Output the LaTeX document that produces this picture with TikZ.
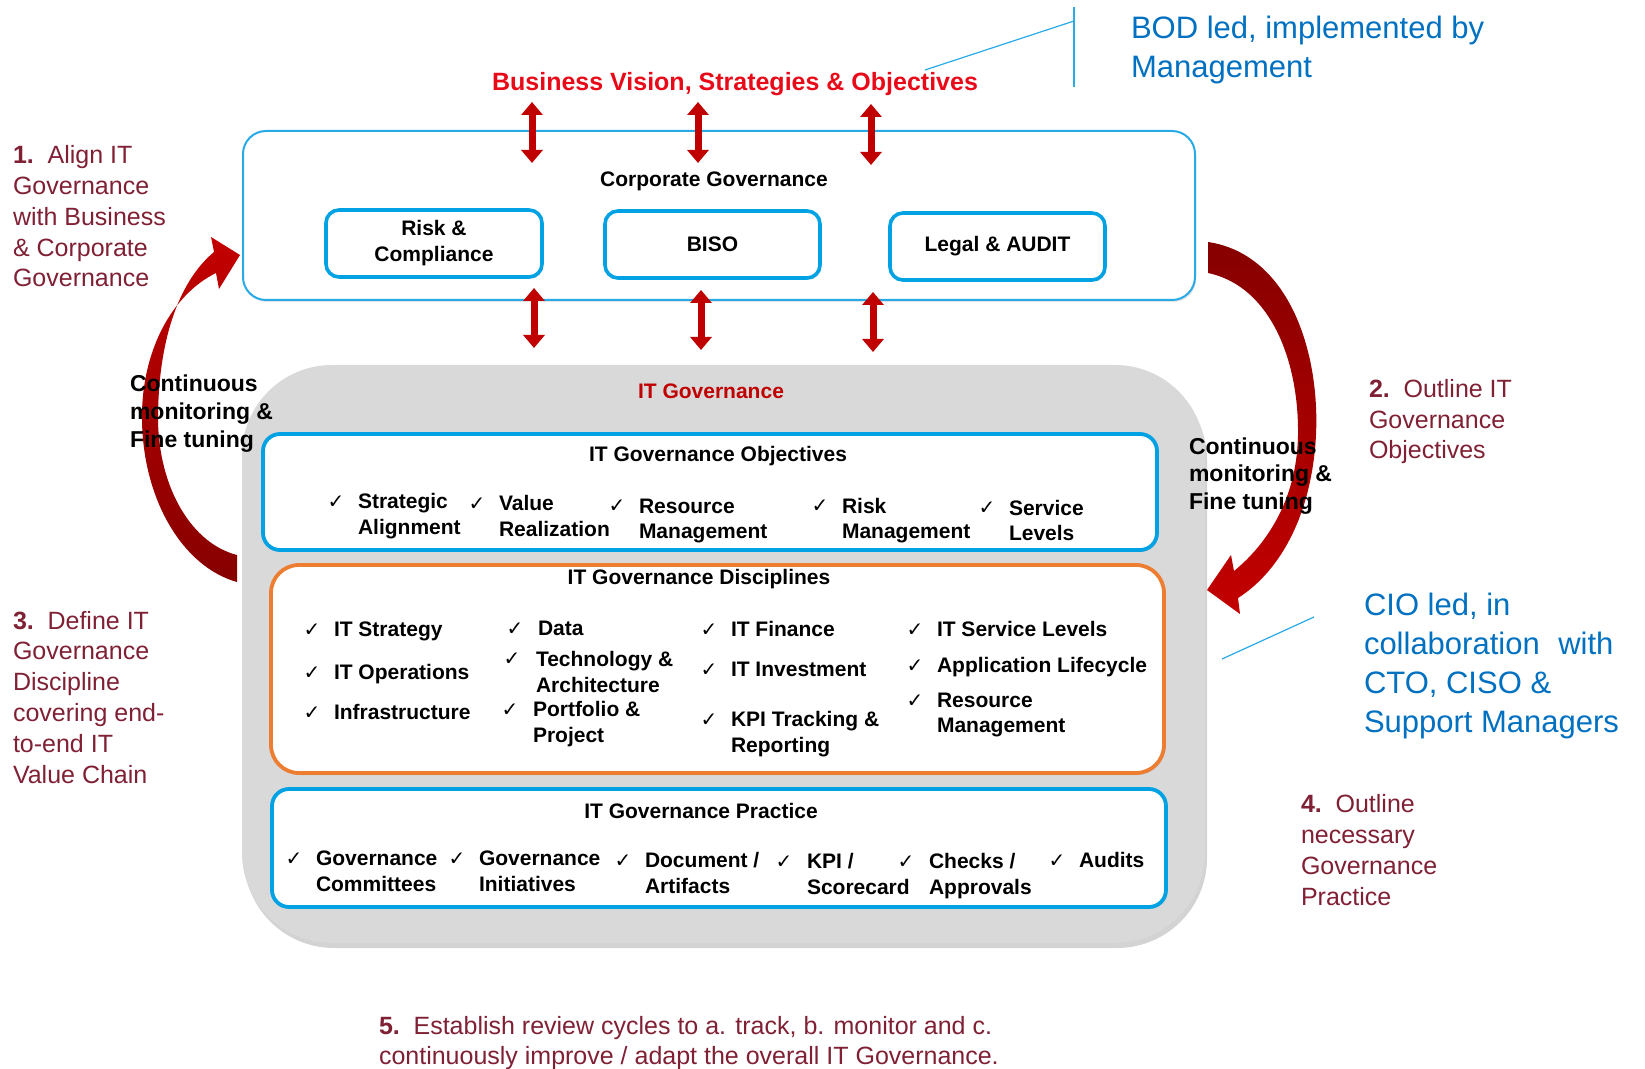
\documentclass[tikz,border=0pt]{standalone}
\usepackage{fontspec}
\setmainfont{Liberation Sans}
\newfontfamily\symfont{DejaVu Sans}
\usetikzlibrary{arrows.meta,shadows}

\definecolor{bluetext}{RGB}{0,112,192}
\definecolor{thinblue}{RGB}{40,170,230}
\definecolor{boxblue}{RGB}{0,162,228}
\definecolor{discorange}{RGB}{237,125,49}
\definecolor{maroon}{RGB}{128,32,52}
\definecolor{arrowred}{RGB}{192,0,0}
\definecolor{visionred}{RGB}{232,10,24}
\definecolor{areagrey}{RGB}{217,217,217}

% check-mark item: name, check x, text x, first baseline y, text, drop of the last line
\newcommand\chkitem[6]{%
  \node[chk] (#1c) at (#2,#4) {✓};
  \node[item,yshift=-#6] (#1) at (#3,#4) {#5};}

\begin{document}
\begin{tikzpicture}[x=0.5pt,y=-0.5pt,
  every node/.style={inner sep=0pt,outer sep=0pt},
  softshadow/.style={drop shadow={shadow xshift=0.6pt,shadow yshift=-1pt,opacity=0.22}},
  corpbox/.style={draw=thinblue,line width=1pt,fill=white,rounded corners=11.5pt,softshadow},
  unitbox/.style={draw=boxblue,line width=1.8pt,fill=white,rounded corners=6.5pt,softshadow,
    align=center,font=\bfseries\fontsize{10.5}{13}\selectfont},
  panelbox/.style={draw=boxblue,line width=1.9pt,fill=white,rounded corners=8.5pt,softshadow},
  discbox/.style={draw=discorange,line width=1.9pt,fill=white,rounded corners=14pt,softshadow},
  greyarea/.style={fill=areagrey,rounded corners=45pt,
    drop shadow={shadow xshift=1pt,shadow yshift=-2.5pt,opacity=0.35}},
  ttl/.style={anchor=base,font=\bfseries\fontsize{10.5}{13}\selectfont},
  item/.style={anchor=base west,align=left,font=\bfseries\fontsize{10.5}{13}\selectfont},
  chk/.style={anchor=base,font=\symfont\fontsize{10}{12}\selectfont},
  steplbl/.style={anchor=base west,align=left,text=maroon,font=\fontsize{12.5}{15.4}\selectfont},
  bluelbl/.style={anchor=base west,align=left,text=bluetext,font=\fontsize{15.5}{19.5}\selectfont},
  cont/.style={anchor=base west,align=left,font=\bfseries\fontsize{11.5}{14}\selectfont},
  dblarrow/.style={draw=arrowred,line width=3.5pt,
    {Triangle[width=10.5pt,length=6.5pt]}-{Triangle[width=10.5pt,length=6.5pt]}},
  leader/.style={draw=thinblue,line width=0.6pt}
]
\useasboundingbox (0,0) rectangle (1645,1069);

% IT governance area
\node[greyarea,minimum width=481.5pt,minimum height=289pt] (itarea) at (723.5,654) {};

% corporate governance frame and its three units
\node[corpbox,minimum width=476pt,minimum height=84.5pt] (corp) at (719,215.5) {};
\node[unitbox,minimum width=108pt,minimum height=33.5pt] (risk) at (434,243.5) {Risk \&\\Compliance};
\node[unitbox,minimum width=107.5pt,minimum height=33.5pt] (biso) at (712.5,244.5) {BISO};
\node[unitbox,minimum width=107.5pt,minimum height=33.5pt] (legal) at (997.5,246.5) {Legal \& AUDIT};

% inner panels
\node[panelbox,minimum width=447pt,minimum height=58pt] (obj) at (710,492) {};
\node[discbox,minimum width=446.5pt,minimum height=104pt] (disc) at (717.5,669) {};
\node[panelbox,minimum width=447pt,minimum height=59pt] (prac) at (719,848) {};

% vertical two-way arrows
\coordinate (ta1) at (532,102); \coordinate (tb1) at (532,163);
\coordinate (ta2) at (698,102); \coordinate (tb2) at (698,163);
\coordinate (ta3) at (871,104); \coordinate (tb3) at (871,165);
\coordinate (ba1) at (534,288); \coordinate (bb1) at (534,348);
\coordinate (ba2) at (701,290); \coordinate (bb2) at (701,350);
\coordinate (ba3) at (873,292); \coordinate (bb3) at (873,352);
\foreach \i in {1,2,3} {
  \draw[dblarrow] (ta\i) -- (tb\i);
  \draw[dblarrow] (ba\i) -- (bb\i);
}

% curved feedback arrows
\shade[top color=arrowred!95!red,bottom color=arrowred!70!black]
  (237,582) .. controls (183,567) and (143,500) .. (142,420)
  .. controls (141,350) and (173,294) .. (216,273)
  -- (219,289) -- (240,255) -- (211,237) -- (214,252)
  .. controls (178,282) and (158,342) .. (158,420)
  .. controls (159,490) and (193,544) .. (237,555) -- cycle;
\shade[top color=arrowred!70!black,bottom color=arrowred!95!red]
  (1208,242) .. controls (1288,254) and (1320,350) .. (1316,435)
  .. controls (1312,512) and (1282,570) .. (1238,598)
  -- (1240,614) -- (1207,590) -- (1231,555) -- (1234,571)
  .. controls (1266,545) and (1297,500) .. (1298,435)
  .. controls (1299,360) and (1270,286) .. (1208,273) -- cycle;

% leader lines
\coordinate (bodtop) at (1074,7);
\coordinate (bodbot) at (1074,87);
\coordinate (bodjoin) at (1074,21);
\coordinate (bodend) at (925,70);
\draw[leader] (bodtop) -- (bodbot);
\draw[leader] (bodjoin) -- (bodend);
\coordinate (cioa) at (1314,617);
\coordinate (ciob) at (1222,659);
\draw[leader] (cioa) -- (ciob);

% headings
\node[anchor=base,text=visionred,font=\bfseries\fontsize{12.5}{15}\selectfont] (vision) at (735,91)
  {Business Vision, Strategies \& Objectives};
\node[ttl] (corpt) at (714,187) {Corporate Governance};
\node[ttl,text=arrowred] (itgov) at (711,399) {IT Governance};
\node[ttl] (objt) at (718,462) {IT Governance Objectives};
\node[ttl] (disct) at (699,585) {IT Governance Disciplines};
\node[ttl] (pract) at (701,818) {IT Governance Practice};

% objectives
\chkitem{o1}{336}{358}{509}{Strategic\\Alignment}{13pt}
\chkitem{o2}{477}{499}{511}{Value\\Realization}{13pt}
\chkitem{o3}{617}{639}{513}{Resource\\Management}{13pt}
\chkitem{o4}{820}{842}{513}{Risk\\Management}{13pt}
\chkitem{o5}{987}{1009}{515}{Service\\Levels}{13pt}

% disciplines
\chkitem{d1}{312}{334}{637}{IT Strategy}{0pt}
\chkitem{d2}{312}{334}{679}{IT Operations}{0pt}
\chkitem{d3}{312}{334}{719}{Infrastructure}{0pt}
\chkitem{d4}{515}{538}{635}{Data}{0pt}
\chkitem{d5}{512}{536}{666}{Technology \&\\Architecture}{13pt}
\chkitem{d6}{510}{533}{716}{Portfolio \&\\Project}{13pt}
\chkitem{d7}{709}{731}{637}{IT Finance}{0pt}
\chkitem{d8}{709}{731}{676}{IT Investment}{0pt}
\chkitem{d9}{709}{731}{726}{KPI Tracking \&\\Reporting}{13pt}
\chkitem{d10}{915}{937}{637}{IT Service Levels}{0pt}
\chkitem{d11}{915}{937}{672}{Application Lifecycle}{0pt}
\chkitem{d12}{915}{937}{707}{Resource\\Management}{13pt}

% practice
\chkitem{p1}{294}{316}{865}{Governance\\Committees}{13pt}
\chkitem{p2}{457}{479}{865}{Governance\\Initiatives}{13pt}
\chkitem{p3}{623}{645}{867}{Document /\\Artifacts}{13pt}
\chkitem{p4}{784}{807}{868}{KPI /\\Scorecard}{13pt}
\chkitem{p5}{906}{929}{868}{Checks /\\Approvals}{13pt}
\chkitem{p6}{1057}{1079}{867}{Audits}{0pt}

% loop captions (anchored on the last line)
\node[cont] (contl) at (130,448) {Continuous\\monitoring \&\\Fine tuning};
\node[cont] (contr) at (1189,510) {Continuous\\monitoring \&\\Fine tuning};

% numbered steps (anchored on the last line)
\node[steplbl] (s1) at (13,287) {\textbf{1.}\hspace{0.55em}Align IT\\Governance\\with Business\\\& Corporate\\Governance};
\node[steplbl] (s2) at (1369,459) {\textbf{2.}\hspace{0.55em}Outline IT\\Governance\\Objectives};
\node[steplbl] (s3) at (13,783) {\textbf{3.}\hspace{0.55em}Define IT\\Governance\\Discipline\\covering end-\\to-end IT\\Value Chain};
\node[steplbl] (s4) at (1301,905) {\textbf{4.}\hspace{0.55em}Outline\\necessary\\Governance\\Practice};
\node[steplbl,font=\fontsize{12.5}{15}\selectfont] (s5) at (379,1064)
  {\textbf{5.}\hspace{0.55em}Establish review cycles to a. track, b. monitor and c.\\continuously improve / adapt the overall IT Governance.};

% ownership notes (anchored on the last line)
\node[bluelbl] (bod) at (1131,78) {BOD led, implemented by\\Management};
\node[bluelbl] (cio) at (1364,732) {CIO led, in\\collaboration\hspace{0.6em}with\\CTO, CISO \&\\Support Managers};
\end{tikzpicture}
\end{document}
